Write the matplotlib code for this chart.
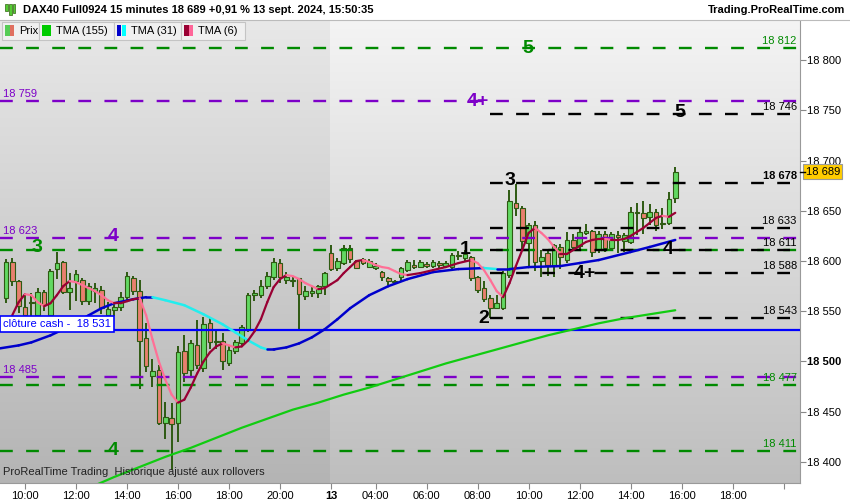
import numpy as np
import matplotlib.pyplot as plt
import matplotlib.transforms as mtransforms
from matplotlib.collections import LineCollection
from matplotlib.patches import Rectangle

plt.rcParams['font.family'] = ['Liberation Sans', 'DejaVu Sans']
plt.rcParams['lines.scale_dashes'] = False

# 15 minute bars, bar index 0 = 12 sept 10:00
first_bar = -3
opens = [18563, 18599, 18580, 18554, 18558, 18546, 18569, 18546, 18592, 18599, 18569, 18580, 18581,
         18560, 18570, 18571, 18546, 18551, 18554, 18564, 18583, 18570, 18523,
         18486, 18492, 18439, 18444, 18439, 18510, 18492, 18516, 18494, 18538,
         18519, 18520, 18498, 18510, 18518, 18531, 18566, 18566, 18575, 18584,
         18598, 18581, 18580, 18583, 18565, 18568, 18568, 18575, 18608, 18593,
         18598, 18613, 18600, 18602, 18594, 18593, 18589, 18583, 18579, 18584,
         18591, 18596, 18594, 18597, 18595, 18598, 18595, 18594, 18605, 18603,
         18604, 18584, 18573, 18563, 18553, 18553, 18586, 18658, 18653, 18618,
         18636, 18600, 18608, 18595, 18614, 18601, 18621, 18615, 18628, 18630,
         18611, 18627, 18613, 18626, 18620, 18619, 18648, 18648, 18644, 18649,
         18638, 18638, 18663]
highs = [18602, 18603, 18581, 18568, 18568, 18573, 18571, 18592, 18609, 18600, 18588, 18591, 18583,
         18578, 18578, 18575, 18559, 18559, 18569, 18589, 18585, 18581, 18538,
         18502, 18496, 18460, 18459, 18515, 18526, 18521, 18541, 18544, 18543,
         18531, 18528, 18515, 18521, 18536, 18568, 18571, 18581, 18589, 18603,
         18602, 18589, 18584, 18583, 18575, 18574, 18576, 18589, 18616, 18603,
         18616, 18616, 18601, 18603, 18602, 18598, 18590, 18584, 18581, 18594,
         18601, 18601, 18601, 18599, 18601, 18600, 18600, 18608, 18610, 18611,
         18605, 18585, 18580, 18566, 18566, 18590, 18671, 18677, 18655, 18638,
         18640, 18611, 18612, 18617, 18617, 18629, 18627, 18634, 18637, 18631,
         18630, 18630, 18629, 18630, 18628, 18654, 18658, 18660, 18657, 18652,
         18653, 18669, 18694]
lows = [18558, 18575, 18548, 18540, 18545, 18543, 18550, 18543, 18582, 18567, 18551, 18560, 18556,
        18556, 18558, 18547, 18540, 18545, 18550, 18560, 18566, 18473, 18490,
        18475, 18437, 18423, 18392, 18420, 18480, 18485, 18493, 18490, 18512,
        18512, 18492, 18495, 18507, 18514, 18529, 18560, 18563, 18572, 18581,
        18578, 18577, 18574, 18531, 18561, 18564, 18563, 18566, 18590, 18590,
        18596, 18598, 18592, 18596, 18593, 18591, 18580, 18576, 18578, 18580,
        18589, 18592, 18593, 18593, 18593, 18593, 18593, 18592, 18601, 18600,
        18580, 18568, 18559, 18543, 18552, 18551, 18583, 18645, 18612, 18594,
        18590, 18584, 18585, 18584, 18592, 18598, 18612, 18612, 18626, 18604,
        18608, 18609, 18610, 18608, 18609, 18617, 18626, 18627, 18636, 18630,
        18632, 18636, 18658]
closes = [18599, 18580, 18555, 18546, 18559, 18569, 18556, 18590, 18598, 18569, 18573, 18587, 18560,
          18575, 18573, 18553, 18552, 18554, 18564, 18585, 18570, 18520, 18495,
          18491, 18439, 18445, 18438, 18509, 18489, 18518, 18496, 18537, 18519,
          18520, 18500, 18511, 18519, 18534, 18566, 18568, 18575, 18585, 18599,
          18584, 18584, 18580, 18567, 18570, 18570, 18575, 18588, 18592, 18600,
          18613, 18602, 18593, 18598, 18600, 18595, 18584, 18580, 18580, 18593,
          18599, 18594, 18599, 18595, 18599, 18596, 18598, 18606, 18605, 18607,
          18583, 18571, 18562, 18553, 18558, 18588, 18660, 18653, 18620, 18636,
          18599, 18604, 18596, 18616, 18604, 18621, 18614, 18629, 18630, 18609,
          18627, 18613, 18627, 18624, 18626, 18649, 18649, 18643, 18649, 18636,
          18637, 18662, 18689]

# moving averages
tma155_idx = [10, 14, 18, 22, 26, 30, 34, 38, 42, 46, 50, 54, 58, 62, 66, 70, 74, 78, 82, 86, 90, 94, 98, 102]
tma155_val = [18374, 18385, 18395, 18405, 18414, 18424, 18434, 18443, 18452, 18459, 18467, 18474,
              18482, 18490, 18498, 18505, 18512, 18519, 18526, 18532, 18538, 18543, 18547, 18551]
tma31_idx = [-4, -1, 1, 4, 7, 10, 12, 14, 17, 19, 20, 22, 25, 28, 31, 33, 35, 37, 38, 39, 41, 43, 45,
             47, 49, 51, 54, 57, 60, 64, 68, 72, 74, 76, 79, 84, 87, 90, 95, 98, 102]
tma31_val = [18513, 18516, 18519, 18526, 18535, 18546, 18553, 18558, 18562, 18564, 18564, 18561,
             18556, 18547, 18537, 18529, 18521, 18514, 18512, 18512, 18514, 18518, 18524, 18532,
             18542, 18553, 18566, 18575, 18582, 18589, 18592, 18593, 18592, 18592, 18594, 18595,
             18598, 18601, 18609, 18614, 18621]
tma6_idx = list(range(-2, 61)) + [62, 64, 66, 68] + list(range(70, 103))
tma6_val = [18546, 18559, 18567, 18566, 18559, 18555, 18558, 18566, 18575, 18580, 18579, 18576,
            18573, 18570, 18566, 18561, 18558, 18558, 18560, 18562, 18563, 18546, 18522, 18500,
            18482, 18467, 18459, 18462, 18474, 18488, 18500, 18509, 18515, 18518, 18516, 18514,
            18515, 18521, 18530, 18542, 18559, 18574, 18582, 18586, 18585, 18582, 18578, 18575,
            18572, 18573, 18577, 18581, 18588, 18594, 18600, 18601, 18599, 18596, 18594, 18593,
            18590, 18587, 18586,
            18588, 18591, 18594, 18598,
            18601, 18598, 18591, 18581, 18570, 18564, 18578, 18595, 18611, 18628, 18633, 18628,
            18622, 18614, 18607, 18607, 18611, 18615, 18619, 18621, 18622, 18622, 18621, 18621,
            18622, 18625, 18629, 18633, 18638, 18643, 18645, 18644, 18648]

# horizontal levels
green_levels = [18812, 18611, 18477, 18411]
purple_levels = [18759, 18623, 18485]
black_levels = [18746, 18678, 18633, 18611, 18588, 18543]
black_start = 72.9
cash_close = 18531
last_price = 18689
left_labels = [18759, 18623, 18485]
right_labels = [(18812, 'g'), (18746, 'k'), (18678, 'k'), (18633, 'k'), (18611, 'k'),
                (18588, 'k'), (18543, 'k'), (18477, 'g'), (18411, 'g')]
wave_marks = [('5', 78.9, 18812, 'g'), ('4+', 71.1, 18759, 'p'), ('4', 13.8, 18624, 'p'),
              ('3', 1.8, 18613, 'g'), ('4', 13.8, 18411, 'g'), ('5', 102.7, 18748, 'k'),
              ('3', 76.1, 18680, 'k'), ('1', 69.0, 18611, 'k'), ('2', 72.0, 18543, 'k'),
              ('4+', 87.8, 18588, 'k'), ('4', 100.9, 18611, 'k')]

tick_pos = [0, 8, 16, 24, 32, 40, 48, 55, 63, 71, 79, 87, 95, 103, 111, 119]
tick_lab = ['10:00', '12:00', '14:00', '16:00', '18:00', '20:00', '13', '04:00', '06:00',
            '08:00', '10:00', '12:00', '14:00', '16:00', '18:00', '']
day13_start = 47.9

cmap = {'g': '#008a00', 'p': '#7d00c8', 'k': '#000000'}

def fmt(v):
    return f"{v:,}".replace(',', ' ')

def colored_line(ax, xs, ys, up, down, lw, z):
    pts = np.column_stack([xs, ys]).astype(float)
    segs = np.stack([pts[:-1], pts[1:]], axis=1)
    cols = [down if s[1, 1] < s[0, 1] else up for s in segs]
    ax.add_collection(LineCollection(segs, colors=cols, linewidths=lw, zorder=z,
                                     capstyle='round', joinstyle='round'))

W, H = 850, 500
fig = plt.figure(figsize=(W / 100, H / 100), dpi=100)
ax = fig.add_axes([0, 17 / H, 800 / W, 463 / H])
x_min, x_max = -3.92, 121.57
y_min, y_max = 18379, 18840

# background gradient (day 12 slightly darker)
cols = np.linspace(x_min, x_max, 800)
shade = np.linspace(1, 0, 300)[:, None]
top = np.where(cols < day13_start, 232, 244)
bot = np.where(cols < day13_start, 180, 190)
grey = (bot + (top - bot) * shade) / 255
ax.imshow(np.dstack([grey] * 3), extent=[x_min, x_max, y_min, y_max], aspect='auto',
          origin='upper', zorder=0, interpolation='bilinear')

# candles
bars = np.arange(first_bar, first_bar + len(opens))
o = np.array(opens); c = np.array(closes)
up = c >= o
body_lo = np.minimum(o, c)
body_h = np.maximum(np.abs(c - o), 0.8)
edge = '#2e5a12'
ax.vlines(bars, lows, highs, color=edge, lw=1.4, zorder=3)
ax.bar(bars[up], body_h[up], bottom=body_lo[up], width=0.72, color='#62d862',
       edgecolor=edge, linewidth=0.8, zorder=3)
ax.bar(bars[~up], body_h[~up], bottom=body_lo[~up], width=0.72, color='#e8806e',
       edgecolor=edge, linewidth=0.8, zorder=3)

# dashed levels
dash = (0, (9.2, 9.6))
for lv in green_levels:
    ax.plot([x_min, x_max], [lv, lv], color=cmap['g'], lw=1.7, ls=dash, zorder=4)
for lv in purple_levels:
    ax.plot([x_min, x_max], [lv, lv], color=cmap['p'], lw=1.7, ls=dash, zorder=4)
for lv in black_levels:
    ax.plot([black_start, x_max], [lv, lv], color='black', lw=1.7, ls=dash, zorder=4)
ax.plot([x_min, x_max], [cash_close, cash_close], color='#0000ff', lw=1.6, zorder=5)

# moving averages
ax.plot(tma155_idx, tma155_val, color='#11cc11', lw=1.6, zorder=5, solid_capstyle='round')
colored_line(ax, tma31_idx, tma31_val, '#0000cc', '#22eeee', 1.8, 5)
colored_line(ax, tma6_idx, tma6_val, '#990033', '#ff6f96', 1.6, 6)

trans = mtransforms.blended_transform_factory(ax.transAxes, ax.transData)
for lv in left_labels:
    ax.text(0.004, lv + 2, fmt(lv), transform=trans, color=cmap['p'], fontsize=8,
            ha='left', va='bottom', zorder=7)
for lv, col in right_labels:
    ax.text(0.996, lv + 2, fmt(lv), transform=trans, color=cmap[col], fontsize=8,
            ha='right', va='bottom', zorder=7,
            fontweight='bold' if lv == 18678 else 'normal')
for s, xi, lv, col in wave_marks:
    ax.text(xi, lv, s, color=cmap[col], fontsize=14, fontweight='bold', ha='center',
            va='center', zorder=8)

ax.text(0.004, cash_close + 1.5, 'clôture cash -  ' + fmt(cash_close), transform=trans,
        color='#0000ff', fontsize=8, ha='left', va='bottom', zorder=8,
        bbox=dict(boxstyle='square,pad=0.25', fc='white', ec='#0000ff', lw=1.2))
ax.text(0.004, 0.012, 'ProRealTime Trading  Historique ajusté aux rollovers', transform=ax.transAxes,
        fontsize=8, color='#222222', ha='left', va='bottom', zorder=8)

# axes styling
ax.set_xlim(x_min, x_max)
ax.set_ylim(y_min, y_max)
ax.yaxis.tick_right()
yt = np.arange(18400, 18801, 50)
ax.set_yticks(yt)
ax.set_yticklabels([fmt(v) for v in yt])
for lab, v in zip(ax.get_yticklabels(), yt):
    if v == 18500:
        lab.set_fontweight('bold')
ax.set_xticks(tick_pos)
ax.set_xticklabels(tick_lab)
ax.get_xticklabels()[6].set_fontweight('bold')
ax.tick_params(axis='y', length=4, width=0.8, color='#888888', labelsize=8, pad=1)
ax.tick_params(axis='x', length=4, width=0.8, color='#888888', labelsize=8, pad=2)
for side in ['top', 'left']:
    ax.spines[side].set_visible(False)
for side in ['right', 'bottom']:
    ax.spines[side].set_color('#999999')
    ax.spines[side].set_linewidth(0.8)

# last price box
ax.text(1.007, last_price, fmt(last_price), transform=trans, fontsize=8, ha='left', va='center',
        zorder=9, clip_on=False,
        bbox=dict(boxstyle='square,pad=0.2', fc='#ffcc00', ec='#9a9a9a', lw=0.8))
ax.plot([1.0, 1.006], [last_price, last_price], transform=trans, color='black', lw=1,
        clip_on=False, zorder=9)

# header bar
fig.patches.append(Rectangle((0, 1 - 20 / H), 1, 20 / H, transform=fig.transFigure,
                             fc='white', ec='none', zorder=1))
fig.lines.append(plt.Line2D([0, 1], [1 - 20 / H, 1 - 20 / H], transform=fig.transFigure,
                            color='#bbbbbb', lw=0.8))
fig.text(23 / W, 1 - 10 / H, 'DAX40 Full0924 15 minutes 18 689 +0,91 % 13 sept. 2024, 15:50:35',
         fontsize=8, fontweight='bold', ha='left', va='center')
fig.text(845 / W, 1 - 10 / H, 'Trading.ProRealTime.com', fontsize=8, fontweight='bold',
         ha='right', va='center')
for k, (bx, bh) in enumerate([(5, 7), (9, 11), (13, 9)]):
    fig.patches.append(Rectangle((bx / W, 1 - (4 + bh) / H), 2.5 / W, bh / H,
                                 transform=fig.transFigure, fc='#55cc33', ec='#336611', lw=0.5))

# legend boxes
boxes = [(2, 39, 'Prix', ['#55cc55', '#e07060']),
         (39, 114, 'TMA (155)', ['#00cc00', '#00cc00']),
         (114, 181, 'TMA (31)', ['#0000cc', '#00ffff']),
         (181, 245, 'TMA (6)', ['#990033', '#ff6699'])]
for x0, x1, name, sw in boxes:
    fig.patches.append(Rectangle((x0 / W, 1 - 40 / H), (x1 - x0) / W, 18 / H,
                                 transform=fig.transFigure, fc='#f0f0f0', ec='#c4c4c4', lw=0.8))
    fig.patches.append(Rectangle(((x0 + 3) / W, 1 - 36 / H), 4.5 / W, 11 / H,
                                 transform=fig.transFigure, fc=sw[0], ec='none'))
    fig.patches.append(Rectangle(((x0 + 7.5) / W, 1 - 36 / H), 4.5 / W, 11 / H,
                                 transform=fig.transFigure, fc=sw[1], ec='none'))
    fig.text((x0 + 17) / W, 1 - 30.5 / H, name, fontsize=8, ha='left', va='center')

fig.savefig('out.png', dpi=100)
